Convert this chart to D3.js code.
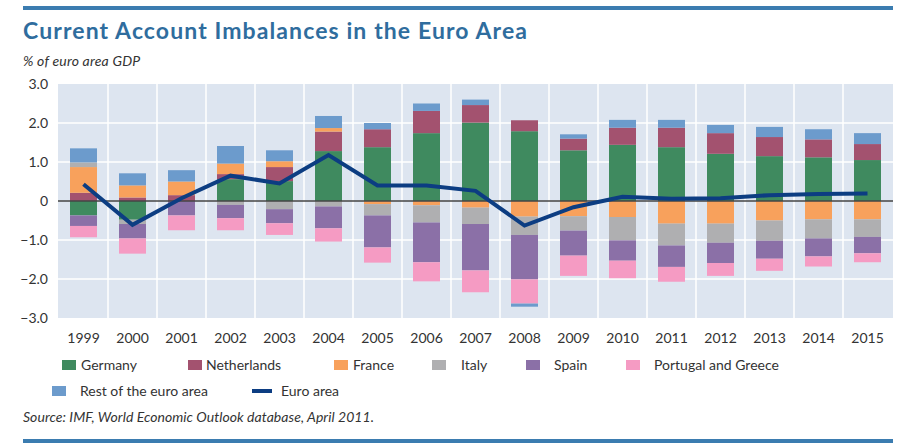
<!DOCTYPE html>
<html>
<head>
<meta charset="utf-8">
<script src="https://cdn.jsdelivr.net/npm/d3@7"></script>
<style>
  html, body { margin: 0; padding: 0; background: #ffffff; }
  svg { display: block; }
  text { font-family: "Lato", "Open Sans", sans-serif; }
</style>
</head>
<body>
<svg id="chart" width="901" height="443"></svg>
<script>
// ---- Data (% of euro area GDP) ----
const years = ["1999","2000","2001","2002","2003","2004","2005","2006","2007","2008","2009","2010","2011","2012","2013","2014","2015"];
const germany     = [-0.37,-0.48, 0.00, 0.56, 0.51, 1.28, 1.38, 1.74, 2.01, 1.79, 1.30, 1.44, 1.38, 1.21, 1.15, 1.12, 1.05];
const netherlands = [ 0.21, 0.09, 0.15, 0.13, 0.36, 0.50, 0.46, 0.57, 0.45, 0.28, 0.30, 0.44, 0.50, 0.53, 0.49, 0.46, 0.41];
const france      = [ 0.66, 0.31, 0.35, 0.27, 0.15, 0.09,-0.08,-0.11,-0.17,-0.40,-0.39,-0.41,-0.58,-0.58,-0.50,-0.47,-0.47];
const italy       = [ 0.12,-0.11, 0.00,-0.10,-0.21,-0.14,-0.29,-0.44,-0.42,-0.47,-0.37,-0.60,-0.56,-0.49,-0.52,-0.49,-0.45];
const spain       = [-0.27,-0.37,-0.37,-0.34,-0.36,-0.56,-0.82,-1.02,-1.19,-1.14,-0.64,-0.52,-0.55,-0.52,-0.46,-0.46,-0.42];
const portGreece  = [-0.29,-0.39,-0.38,-0.31,-0.30,-0.34,-0.39,-0.49,-0.56,-0.62,-0.52,-0.45,-0.38,-0.33,-0.31,-0.26,-0.23];
const restEuro    = [ 0.36, 0.31, 0.29, 0.45, 0.28, 0.31, 0.16, 0.19, 0.14,-0.08, 0.11, 0.20, 0.20, 0.21, 0.26, 0.26, 0.28];
const euroArea    = [ 0.43,-0.61, 0.07, 0.65, 0.45, 1.18, 0.40, 0.40, 0.26,-0.63,-0.16, 0.11, 0.06, 0.07, 0.15, 0.18, 0.19];

const yTicks = [3, 2, 1, 0, -1, -2, -3];
const seriesNames = ["Germany","Netherlands","France","Italy","Spain","Portugal and Greece","Rest of the euro area"];
const lineName = "Euro area";
const colors = ["#3f8a5f","#a3526f","#f8a15c","#afafb1","#8b70a7","#f59bc3","#6c9bcc"];
const lineColor = "#0c3d82";

// ---- Build table ----
const seriesArrays = [germany, netherlands, france, italy, spain, portGreece, restEuro];
const table = years.map((yr, i) => {
  const row = { year: yr };
  seriesNames.forEach((n, k) => row[n] = seriesArrays[k][i]);
  return row;
});

const svg = d3.select("#chart");

// ---- Decorations ----
const ruleColor = "#3b7cb0";
svg.append("rect").attr("x", 23).attr("y", 6).attr("width", 870).attr("height", 4).attr("fill", ruleColor);
svg.append("rect").attr("x", 23).attr("y", 439).attr("width", 870).attr("height", 4).attr("fill", ruleColor);

svg.append("text").attr("x", 23).attr("y", 39)
  .attr("fill", "#2f6d9e").attr("font-weight", "bold").attr("font-size", 23)
  .attr("letter-spacing", 1.1)
  .text("Current Account Imbalances in the Euro Area");

svg.append("text").attr("x", 23).attr("y", 66)
  .attr("fill", "#333").attr("font-style", "italic").attr("font-size", 14)
  .attr("letter-spacing", 0.2)
  .text("% of euro area GDP");

// ---- Scales ----
const plot = { left: 58, right: 893, top: 84, bottom: 318 };
const x = d3.scaleBand().domain(years).range([59, 892]).paddingInner(0).paddingOuter(0);
const barW = 27;
const y = d3.scaleLinear().domain([-3, 3]).range([plot.bottom, plot.top]);

// background
svg.append("rect").attr("x", plot.left).attr("y", plot.top)
  .attr("width", plot.right - plot.left).attr("height", plot.bottom - plot.top)
  .attr("fill", "#dde5f0");

// gridlines
const g = svg.append("g");
g.selectAll("line.h").data(yTicks.filter(t => t !== 0 && t !== 3 && t !== -3)).join("line")
  .attr("x1", plot.left).attr("x2", plot.right)
  .attr("y1", d => y(d)).attr("y2", d => y(d))
  .attr("stroke", "#ffffff").attr("stroke-width", 1.5);
g.selectAll("line.v").data(years.slice(1)).join("line")
  .attr("x1", d => x(d)).attr("x2", d => x(d))
  .attr("y1", plot.top).attr("y2", plot.bottom)
  .attr("stroke", "#ffffff").attr("stroke-width", 1.5);

// ---- Stacked bars ----
const stack = d3.stack().keys(seriesNames).offset(d3.stackOffsetDiverging);
const stacked = stack(table);

svg.append("g").selectAll("g").data(stacked).join("g")
  .attr("fill", (d, i) => colors[i])
  .selectAll("rect").data(d => d).join("rect")
  .attr("x", d => x(d.data.year) + x.bandwidth() / 2 - barW / 2)
  .attr("width", barW)
  .attr("y", d => y(Math.max(d[0], d[1])))
  .attr("height", d => Math.abs(y(d[0]) - y(d[1])));

// zero line
svg.append("line").attr("x1", plot.left).attr("x2", plot.right)
  .attr("y1", y(0)).attr("y2", y(0))
  .attr("stroke", "#444").attr("stroke-width", 1.5);

// ---- Euro area line ----
const line = d3.line()
  .x((d, i) => x(years[i]) + x.bandwidth() / 2)
  .y(d => y(d));
svg.append("path").datum(euroArea)
  .attr("d", line)
  .attr("fill", "none").attr("stroke", lineColor).attr("stroke-width", 4)
  .attr("stroke-linejoin", "miter");

// ---- Axes ----
const yAxis = d3.axisLeft(y).tickValues(yTicks).tickSize(0).tickPadding(0)
  .tickFormat(d => d === 0 ? "0" : d3.format(".1f")(d).replace("-", "\u2212"));
const ya = svg.append("g").attr("transform", "translate(48,0)").call(yAxis);
ya.select(".domain").remove();
ya.selectAll("text").attr("font-size", 14).attr("fill", "#333")
  .attr("font-family", "Lato, 'Open Sans', sans-serif");

const xAxis = d3.axisBottom(x).tickSize(0).tickPadding(0);
const xa = svg.append("g").attr("transform", "translate(0,333)").call(xAxis);
xa.select(".domain").remove();
xa.selectAll("text").attr("font-size", 14).attr("fill", "#333")
  .attr("font-family", "Lato, 'Open Sans', sans-serif");

// ---- Legend ----
const legendItems = [
  { name: seriesNames[0], color: colors[0], sx: 62,  tx: 81,  y: 365 },
  { name: seriesNames[1], color: colors[1], sx: 188, tx: 206, y: 365 },
  { name: seriesNames[2], color: colors[2], sx: 334, tx: 353, y: 365 },
  { name: seriesNames[3], color: colors[3], sx: 432, tx: 461, y: 365 },
  { name: seriesNames[4], color: colors[4], sx: 526, tx: 554, y: 365 },
  { name: seriesNames[5], color: colors[5], sx: 626, tx: 654, y: 365 },
  { name: seriesNames[6], color: colors[6], sx: 52,  tx: 80,  y: 391 },
];
const lg = svg.append("g");
legendItems.forEach(it => {
  lg.append("rect").attr("x", it.sx).attr("y", it.y - 5).attr("width", 14).attr("height", 10).attr("fill", it.color);
  lg.append("text").attr("x", it.tx)
    .attr("y", it.y).attr("dy", "0.35em")
    .attr("font-size", 14).attr("fill", "#333").text(it.name);
});
lg.append("line").attr("x1", 252).attr("x2", 272).attr("y1", 391).attr("y2", 391)
  .attr("stroke", lineColor).attr("stroke-width", 4);
lg.append("text").attr("x", 281).attr("y", 391).attr("dy", "0.35em")
  .attr("font-size", 14).attr("fill", "#333").text(lineName);

// ---- Source ----
svg.append("text").attr("x", 23).attr("y", 422)
  .attr("fill", "#333").attr("font-style", "italic").attr("font-size", 14)
  .attr("letter-spacing", 0.05)
  .text("Source: IMF, World Economic Outlook database, April 2011.");
</script>
</body>
</html>
